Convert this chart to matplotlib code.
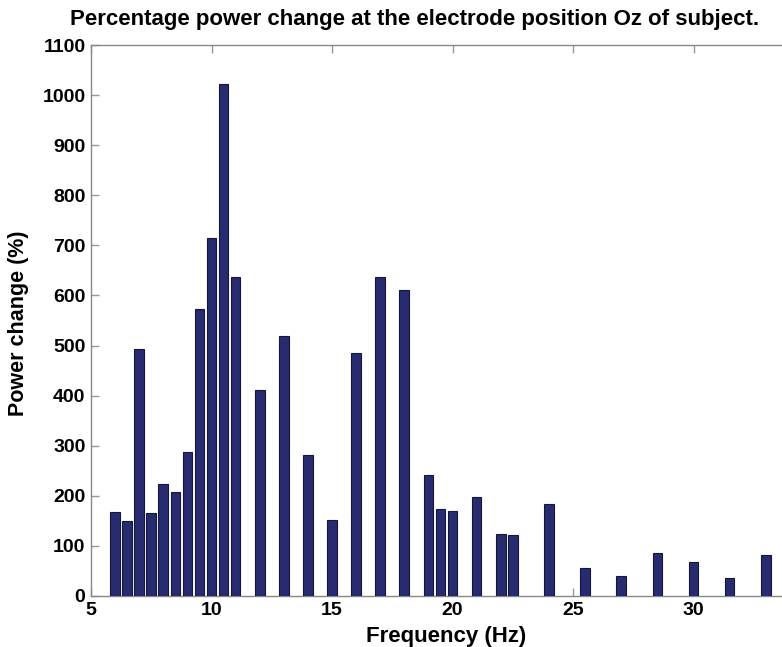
import matplotlib
matplotlib.use("Agg")
import matplotlib.pyplot as plt
import numpy as np

freqs = [6, 6.5, 7, 7.5, 8, 8.5, 9, 9.5, 10, 10.5, 11, 12, 13, 14, 15, 16, 17, 18,
         19, 19.5, 20, 21, 22, 22.5, 24, 25.5, 27, 28.5, 30, 31.5, 33]
power = [168, 150, 493, 166, 224, 207, 288, 573, 714, 1022, 637, 412, 520, 282, 152,
         485, 636, 610, 241, 174, 169, 198, 124, 122, 184, 55, 39, 86, 67, 35, 81]
xticks = [5, 10, 15, 20, 25, 30]
yticks = list(range(0, 1101, 100))

plt.rcParams['font.family'] = ['Liberation Sans', 'DejaVu Sans']
plt.rcParams['font.weight'] = 'bold'

fig = plt.figure(figsize=(7.82, 6.47), dpi=100)
ax = fig.add_axes([91/782, 51/647, 1 - 91/782, (596-45)/647])

ax.bar(freqs, power, width=0.4, color='#272B6F', edgecolor='#15163a', linewidth=0.8, zorder=3)

ax.set_xlim(5, 5 + 691/24.1)
ax.set_ylim(0, 1100)
ax.set_xticks(xticks)
ax.set_yticks(yticks)
ax.tick_params(axis='both', direction='in', length=6, color='#999999', width=1,
               labelsize=14, pad=4)
ax.tick_params(axis='x', top=True, pad=4)
for lab in ax.get_xticklabels() + ax.get_yticklabels():
    lab.set_fontweight('bold')
for s in ['left', 'bottom', 'top']:
    ax.spines[s].set_color('#888888')
    ax.spines[s].set_linewidth(1)
ax.spines['right'].set_visible(False)

ax.set_xlabel('Frequency (Hz)', fontsize=16, fontweight='bold')
ax.set_ylabel('Power change (%)', fontsize=15.5, fontweight='bold')
ax.xaxis.set_label_coords((446-91)/691, -(626-596)/551)
ax.yaxis.set_label_coords((29-91)/691, (596-323)/551)
fig.text(415/782, 1 - 20/647, 'Percentage power change at the electrode position Oz of subject.',
         ha='center', va='center', fontsize=16, fontweight='bold')

fig.savefig('out.png', dpi=100)
